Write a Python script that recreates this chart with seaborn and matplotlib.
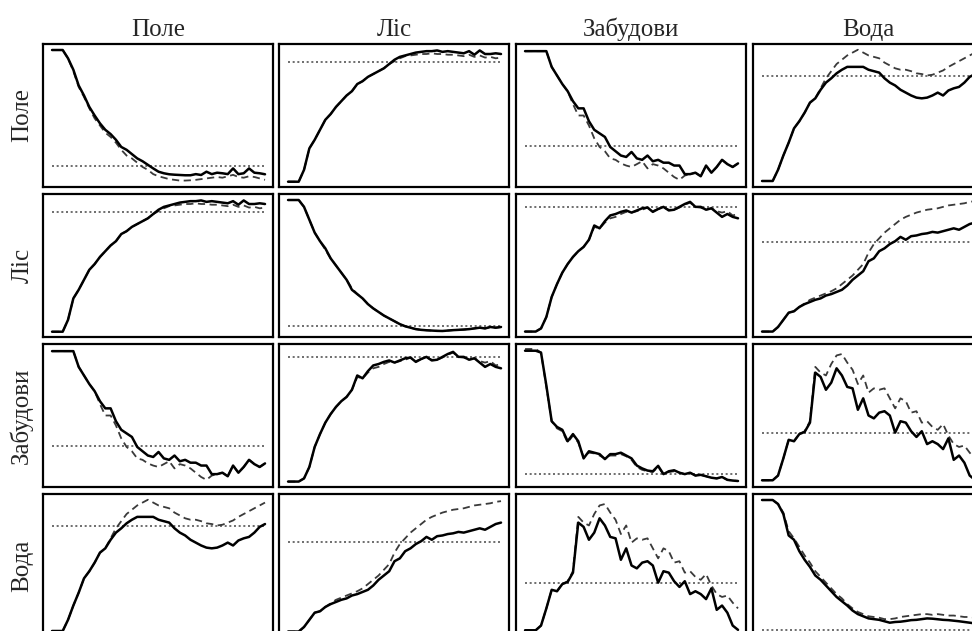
import numpy as np
import pandas as pd
import matplotlib
matplotlib.use("Agg")
import matplotlib.pyplot as plt
import seaborn as sns

# classes (row / column labels)
classes = ["Поле", "Ліс", "Забудови", "Вода"]

# lag index (41 lags), values are normalised semivariance
lags = np.arange(41)

# --- Поле x Поле
pole_pole_solid = [0.958, 0.958, 0.958, 0.90, 0.82, 0.71, 0.64, 0.56, 0.50, 0.445,
                   0.40, 0.37, 0.33, 0.28, 0.26, 0.23, 0.20, 0.18, 0.155, 0.13,
                   0.107, 0.096, 0.089, 0.086, 0.084, 0.082, 0.082, 0.09, 0.084, 0.107,
                   0.09, 0.10, 0.096, 0.09, 0.13, 0.09, 0.096, 0.13, 0.10, 0.096, 0.089]
pole_pole_dashed = [0.958, 0.958, 0.958, 0.90, 0.81, 0.70, 0.63, 0.55, 0.48, 0.43,
                    0.38, 0.35, 0.31, 0.26, 0.22, 0.20, 0.17, 0.14, 0.12, 0.09,
                    0.075, 0.065, 0.055, 0.05, 0.045, 0.045, 0.047, 0.05, 0.055, 0.06,
                    0.065, 0.07, 0.065, 0.075, 0.085, 0.07, 0.065, 0.075, 0.07, 0.06, 0.05]

# --- Поле x Ліс
pole_lis_solid = [0.037, 0.037, 0.037, 0.12, 0.27, 0.33, 0.40, 0.47, 0.51, 0.56,
                  0.60, 0.64, 0.67, 0.72, 0.74, 0.77, 0.79, 0.81, 0.83, 0.86,
                  0.89, 0.91, 0.92, 0.93, 0.94, 0.945, 0.95, 0.95, 0.955, 0.945,
                  0.95, 0.945, 0.94, 0.935, 0.95, 0.925, 0.955, 0.93, 0.93, 0.935, 0.93]
pole_lis_dashed = [0.037, 0.037, 0.037, 0.12, 0.27, 0.33, 0.40, 0.47, 0.51, 0.56,
                   0.60, 0.64, 0.67, 0.72, 0.74, 0.77, 0.79, 0.81, 0.83, 0.86,
                   0.88, 0.90, 0.915, 0.92, 0.925, 0.93, 0.93, 0.935, 0.93, 0.93,
                   0.925, 0.925, 0.92, 0.915, 0.925, 0.91, 0.92, 0.905, 0.91, 0.90, 0.905]

# --- Поле x Забудови
pole_zab_solid = [0.95, 0.95, 0.95, 0.95, 0.95, 0.84, 0.78, 0.72, 0.67, 0.60,
                  0.55, 0.55, 0.46, 0.40, 0.375, 0.35, 0.28, 0.25, 0.22, 0.21,
                  0.245, 0.20, 0.19, 0.22, 0.18, 0.19, 0.17, 0.17, 0.15, 0.15,
                  0.09, 0.09, 0.10, 0.075, 0.15, 0.10, 0.14, 0.19, 0.16, 0.14, 0.165]
pole_zab_dashed = [0.95, 0.95, 0.95, 0.95, 0.95, 0.84, 0.78, 0.72, 0.67, 0.58,
                   0.50, 0.50, 0.43, 0.34, 0.28, 0.25, 0.20, 0.19, 0.165, 0.15,
                   0.14, 0.16, 0.18, 0.13, 0.16, 0.15, 0.13, 0.10, 0.07, 0.05,
                   0.08, 0.09, 0.10, 0.075, 0.15, 0.10, 0.14, 0.19, 0.16, 0.14, 0.165]

# --- Поле x Вода
pole_voda_solid = [0.042, 0.042, 0.042, 0.12, 0.22, 0.31, 0.41, 0.46, 0.52, 0.59,
                   0.62, 0.68, 0.73, 0.76, 0.795, 0.82, 0.84, 0.84, 0.84, 0.84,
                   0.82, 0.81, 0.80, 0.76, 0.73, 0.71, 0.68, 0.66, 0.64, 0.625,
                   0.62, 0.625, 0.64, 0.66, 0.64, 0.675, 0.69, 0.70, 0.73, 0.77, 0.79]
pole_voda_dashed = [0.042, 0.042, 0.042, 0.12, 0.22, 0.31, 0.41, 0.46, 0.52, 0.59,
                    0.62, 0.69, 0.76, 0.81, 0.86, 0.89, 0.92, 0.94, 0.96, 0.94,
                    0.92, 0.91, 0.90, 0.87, 0.85, 0.83, 0.82, 0.82, 0.81, 0.795,
                    0.79, 0.78, 0.785, 0.80, 0.815, 0.84, 0.86, 0.88, 0.90, 0.92, 0.94]

# --- Ліс x Ліс
lis_lis_solid = [0.958, 0.958, 0.958, 0.91, 0.82, 0.73, 0.67, 0.62, 0.55, 0.50,
                 0.45, 0.40, 0.33, 0.30, 0.27, 0.23, 0.20, 0.175, 0.15, 0.13,
                 0.11, 0.09, 0.075, 0.065, 0.055, 0.05, 0.047, 0.045, 0.043, 0.042,
                 0.045, 0.048, 0.05, 0.052, 0.055, 0.06, 0.065, 0.06, 0.07, 0.065, 0.07]
lis_lis_dashed = [0.958, 0.958, 0.958, 0.91, 0.82, 0.73, 0.67, 0.61, 0.55, 0.50,
                  0.45, 0.40, 0.34, 0.30, 0.27, 0.23, 0.20, 0.175, 0.15, 0.13,
                  0.11, 0.09, 0.075, 0.065, 0.055, 0.05, 0.047, 0.045, 0.043, 0.042,
                  0.045, 0.048, 0.05, 0.052, 0.055, 0.06, 0.065, 0.06, 0.07, 0.065, 0.07]

# --- Ліс x Забудови
lis_zab_solid = [0.038, 0.038, 0.038, 0.06, 0.14, 0.28, 0.37, 0.45, 0.51, 0.56,
                 0.60, 0.63, 0.68, 0.78, 0.76, 0.81, 0.85, 0.86, 0.875, 0.885,
                 0.87, 0.885, 0.90, 0.905, 0.875, 0.895, 0.91, 0.885, 0.89, 0.91,
                 0.93, 0.945, 0.91, 0.91, 0.89, 0.90, 0.87, 0.84, 0.86, 0.84, 0.83]
lis_zab_dashed = [0.038, 0.038, 0.038, 0.06, 0.14, 0.28, 0.37, 0.45, 0.51, 0.56,
                  0.60, 0.63, 0.68, 0.77, 0.76, 0.80, 0.83, 0.84, 0.86, 0.875,
                  0.87, 0.88, 0.89, 0.905, 0.88, 0.895, 0.905, 0.89, 0.89, 0.905,
                  0.925, 0.94, 0.91, 0.905, 0.89, 0.90, 0.88, 0.87, 0.88, 0.85, 0.86]

# --- Ліс x Вода
lis_voda_solid = [0.038, 0.038, 0.038, 0.07, 0.12, 0.17, 0.18, 0.21, 0.23, 0.245,
                  0.26, 0.27, 0.29, 0.30, 0.315, 0.33, 0.36, 0.40, 0.43, 0.46,
                  0.53, 0.55, 0.60, 0.62, 0.65, 0.67, 0.70, 0.68, 0.705, 0.71,
                  0.72, 0.725, 0.735, 0.73, 0.74, 0.75, 0.76, 0.75, 0.77, 0.79, 0.80]
lis_voda_dashed = [0.038, 0.038, 0.038, 0.07, 0.12, 0.17, 0.18, 0.21, 0.235, 0.26,
                   0.275, 0.29, 0.305, 0.32, 0.34, 0.37, 0.40, 0.43, 0.47, 0.51,
                   0.59, 0.65, 0.69, 0.73, 0.76, 0.79, 0.82, 0.84, 0.855, 0.87,
                   0.88, 0.89, 0.895, 0.90, 0.91, 0.92, 0.925, 0.93, 0.935, 0.945, 0.95]

# --- Забудови x Забудови
zab_zab_solid = [0.953, 0.953, 0.953, 0.94, 0.71, 0.46, 0.42, 0.40, 0.32, 0.37,
                 0.32, 0.20, 0.25, 0.24, 0.23, 0.195, 0.23, 0.23, 0.24, 0.22,
                 0.20, 0.15, 0.13, 0.115, 0.11, 0.148, 0.09, 0.11, 0.117, 0.10,
                 0.09, 0.10, 0.08, 0.085, 0.075, 0.065, 0.06, 0.07, 0.05, 0.045, 0.042]
zab_zab_dashed = [0.965, 0.965, 0.965, 0.94, 0.70, 0.46, 0.41, 0.39, 0.31, 0.36,
                  0.31, 0.21, 0.24, 0.235, 0.22, 0.20, 0.22, 0.22, 0.23, 0.215,
                  0.19, 0.14, 0.12, 0.11, 0.105, 0.14, 0.09, 0.105, 0.11, 0.10,
                  0.09, 0.10, 0.08, 0.085, 0.075, 0.065, 0.06, 0.07, 0.05, 0.045, 0.042]

# --- Забудови x Вода
zab_voda_solid = [0.047, 0.047, 0.047, 0.08, 0.20, 0.33, 0.32, 0.37, 0.385, 0.45,
                  0.80, 0.77, 0.68, 0.73, 0.83, 0.78, 0.70, 0.69, 0.54, 0.62,
                  0.50, 0.48, 0.52, 0.53, 0.50, 0.38, 0.46, 0.45, 0.39, 0.35,
                  0.39, 0.30, 0.32, 0.30, 0.265, 0.34, 0.19, 0.22, 0.17, 0.08, 0.05]
zab_voda_dashed = [0.047, 0.047, 0.047, 0.08, 0.20, 0.33, 0.32, 0.37, 0.39, 0.46,
                   0.84, 0.80, 0.78, 0.86, 0.92, 0.93, 0.87, 0.82, 0.72, 0.78,
                   0.66, 0.69, 0.68, 0.69, 0.62, 0.55, 0.62, 0.60, 0.52, 0.53,
                   0.45, 0.46, 0.42, 0.40, 0.44, 0.36, 0.30, 0.28, 0.29, 0.24, 0.20]

# --- Вода x Вода
voda_voda_solid = [0.958, 0.958, 0.958, 0.93, 0.86, 0.71, 0.68, 0.60, 0.54, 0.49,
                   0.43, 0.40, 0.36, 0.32, 0.28, 0.25, 0.22, 0.185, 0.16, 0.145,
                   0.13, 0.125, 0.12, 0.11, 0.10, 0.105, 0.107, 0.112, 0.118, 0.12,
                   0.125, 0.13, 0.128, 0.124, 0.12, 0.118, 0.114, 0.11, 0.105, 0.10, 0.095]
voda_voda_dashed = [0.958, 0.958, 0.958, 0.93, 0.87, 0.74, 0.69, 0.63, 0.57, 0.52,
                    0.46, 0.42, 0.38, 0.34, 0.30, 0.27, 0.23, 0.20, 0.175, 0.16,
                    0.145, 0.14, 0.135, 0.125, 0.125, 0.13, 0.14, 0.145, 0.15, 0.155,
                    0.16, 0.16, 0.155, 0.16, 0.155, 0.15, 0.15, 0.145, 0.14, 0.14, 0.135]

# sill levels (dotted lines), upper triangle incl. diagonal
sill = {
    (0, 0): 0.15, (0, 1): 0.875, (0, 2): 0.29, (0, 3): 0.776,
    (1, 1): 0.077, (1, 2): 0.91, (1, 3): 0.665,
    (2, 2): 0.094, (2, 3): 0.376,
    (3, 3): 0.05,
}

curves = {
    (0, 0): (pole_pole_solid, pole_pole_dashed),
    (0, 1): (pole_lis_solid, pole_lis_dashed),
    (0, 2): (pole_zab_solid, pole_zab_dashed),
    (0, 3): (pole_voda_solid, pole_voda_dashed),
    (1, 1): (lis_lis_solid, lis_lis_dashed),
    (1, 2): (lis_zab_solid, lis_zab_dashed),
    (1, 3): (lis_voda_solid, lis_voda_dashed),
    (2, 2): (zab_zab_solid, zab_zab_dashed),
    (2, 3): (zab_voda_solid, zab_voda_dashed),
    (3, 3): (voda_voda_solid, voda_voda_dashed),
}

sns.set_style("white")
plt.rcParams["font.family"] = ["Liberation Serif", "DejaVu Serif"]

W, H = 972, 631
fig = plt.figure(figsize=(W / 100, H / 100), dpi=100)

col_left = [43, 279, 516, 753]
row_top = [44, 194, 344, 494]
pw, ph = 230, 143

for i in range(4):
    for j in range(4):
        key = (min(i, j), max(i, j))
        solid, dashed = curves[key]
        ax = fig.add_axes([col_left[j] / W, 1 - (row_top[i] + ph) / H, pw / W, ph / H])
        sns.lineplot(x=[lags[0], lags[-1]], y=[sill[key], sill[key]], ax=ax,
                     color="#555555", lw=1.2, linestyle=(0, (1.2, 1.6)))
        sns.lineplot(x=lags, y=dashed, ax=ax, color="#3a3a3a", lw=1.3, linestyle=(0, (4, 2.5)))
        sns.lineplot(x=lags, y=solid, ax=ax, color="black", lw=1.8)
        ax.set_xlim(-1.7, 41.5)
        ax.set_ylim(0, 1)
        ax.set_xticks([])
        ax.set_yticks([])
        ax.set_xlabel("")
        ax.set_ylabel("")
        for s in ax.spines.values():
            s.set_color("black")
            s.set_linewidth(1.6)
        if i == 0:
            ax.set_title(classes[j], fontsize=18, pad=6)
        if j == 0:
            ax.set_ylabel(classes[i], fontsize=18, labelpad=7)

fig.savefig("out.png", dpi=100)
